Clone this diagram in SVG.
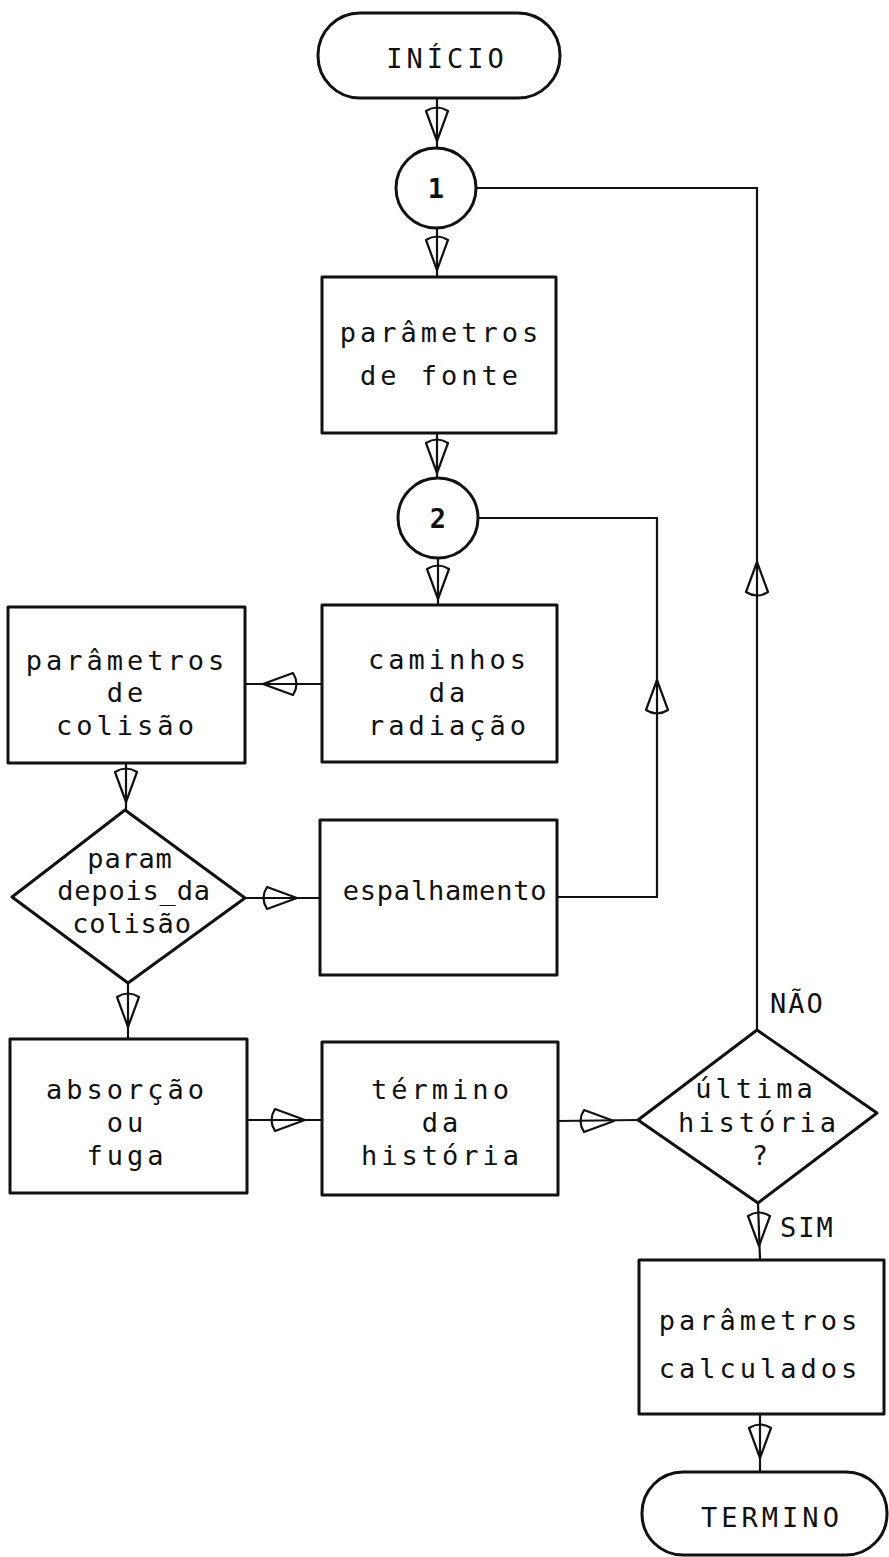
<svg xmlns="http://www.w3.org/2000/svg" xmlns:xlink="http://www.w3.org/1999/xlink" width="889" height="1557" viewBox="0 0 889 1557">
<style>
  .shape { fill: none; stroke: #111; stroke-width: 3; stroke-linejoin: round; }
  .conn { fill: none; stroke: #111; stroke-width: 2.2; }
  .ah { fill: none; stroke: #111; stroke-width: 2.2; stroke-linejoin: round; }
  text { font-family: "DejaVu Sans Mono", "Liberation Mono", monospace; font-size: 27px; fill: #111; }
  .w { letter-spacing: 4px; text-anchor: middle; }
  .n { letter-spacing: 0.8px; text-anchor: middle; }
  .lbl { letter-spacing: 2px; }
  .num { font-size: 27px; text-anchor: middle; font-weight: bold; }
</style>
<defs>
  <path id="ah" class="ah" d="M0,0 L-30,-11 Q-37,0 -30,11 Z"/>
</defs>
<rect width="889" height="1557" fill="#fff"/>

<g id="connectors">
  <line class="conn" x1="437" y1="98" x2="437" y2="148"/>
  <use xlink:href="#ah" transform="translate(437,141) rotate(90)"/>
  <line class="conn" x1="437" y1="228" x2="437" y2="277"/>
  <use xlink:href="#ah" transform="translate(437,270) rotate(90)"/>
  <line class="conn" x1="437" y1="433" x2="437" y2="478"/>
  <use xlink:href="#ah" transform="translate(437,473) rotate(90)"/>
  <line class="conn" x1="438" y1="558" x2="438" y2="605"/>
  <use xlink:href="#ah" transform="translate(438,599) rotate(90)"/>
  <line class="conn" x1="322" y1="684" x2="245" y2="684"/>
  <use xlink:href="#ah" transform="translate(263,684) rotate(180)"/>
  <line class="conn" x1="126" y1="763" x2="126" y2="810"/>
  <use xlink:href="#ah" transform="translate(126,802) rotate(90)"/>
  <line class="conn" x1="245" y1="898" x2="320" y2="898"/>
  <use xlink:href="#ah" transform="translate(297,898)"/>
  <polyline class="conn" points="557,897 657,897 657,518 478,518"/>
  <use xlink:href="#ah" transform="translate(657,680) rotate(-90)"/>
  <line class="conn" x1="128" y1="983" x2="128" y2="1039"/>
  <use xlink:href="#ah" transform="translate(128,1027) rotate(90)"/>
  <line class="conn" x1="247" y1="1120" x2="322" y2="1120"/>
  <use xlink:href="#ah" transform="translate(305,1120)"/>
  <line class="conn" x1="558" y1="1121" x2="638" y2="1120"/>
  <use xlink:href="#ah" transform="translate(614,1121)"/>
  <polyline class="conn" points="757,1030 757,188 476,188"/>
  <use xlink:href="#ah" transform="translate(757,562) rotate(-90)"/>
  <line class="conn" x1="758" y1="1203" x2="760" y2="1260"/>
  <use xlink:href="#ah" transform="translate(759,1246) rotate(90)"/>
  <line class="conn" x1="760" y1="1414" x2="760" y2="1472"/>
  <use xlink:href="#ah" transform="translate(760,1458) rotate(90)"/>
  <text class="lbl" x="770" y="1013">NÃO</text>
  <text class="lbl" x="780" y="1237">SIM</text>
</g>

<g id="inicio">
  <rect class="shape" x="318" y="13" width="242" height="85" rx="42" ry="42"/>
  <text class="w" x="447" y="68">INÍCIO</text>
</g>
<g id="c1">
  <circle class="shape" cx="436" cy="188" r="40"/>
  <text class="num" x="436" y="198">1</text>
</g>
<g id="fonte">
  <rect class="shape" x="322" y="277" width="234" height="156"/>
  <text class="w" x="441" y="342">parâmetros</text>
  <text class="w" x="441" y="385">de fonte</text>
</g>
<g id="c2">
  <circle class="shape" cx="438" cy="518" r="40"/>
  <text class="num" x="438" y="528">2</text>
</g>
<g id="caminhos">
  <rect class="shape" x="322" y="605" width="235" height="157"/>
  <text class="w" x="449" y="669">caminhos</text>
  <text class="w" x="449" y="702">da</text>
  <text class="w" x="449" y="735">radiação</text>
</g>
<g id="colisao">
  <rect class="shape" x="8" y="607" width="237" height="156"/>
  <text class="w" x="127" y="670">parâmetros</text>
  <text class="w" x="127" y="702">de</text>
  <text class="w" x="127" y="735">colisão</text>
</g>
<g id="depois">
  <polygon class="shape" points="125,810 245,898 128,983 12,897"/>
  <text class="n" x="130" y="868">param</text>
  <text class="n" x="134" y="900">depois_da</text>
  <text class="n" x="132" y="933">colisão</text>
</g>
<g id="espalhamento">
  <rect class="shape" x="320" y="820" width="237" height="155"/>
  <text class="n" x="445" y="900">espalhamento</text>
</g>
<g id="absorcao">
  <rect class="shape" x="10" y="1039" width="237" height="154"/>
  <text class="w" x="127" y="1099">absorção</text>
  <text class="w" x="127" y="1132">ou</text>
  <text class="w" x="127" y="1165">fuga</text>
</g>
<g id="termino-historia">
  <rect class="shape" x="322" y="1042" width="236" height="153"/>
  <text class="w" x="442" y="1099">término</text>
  <text class="w" x="442" y="1132">da</text>
  <text class="w" x="442" y="1165">história</text>
</g>
<g id="ultima">
  <polygon class="shape" points="757,1030 877,1113 758,1203 638,1120"/>
  <text class="w" x="756" y="1098">última</text>
  <text class="w" x="759" y="1132">história</text>
  <text class="w" x="762" y="1165">?</text>
</g>
<g id="calculados">
  <rect class="shape" x="639" y="1260" width="245" height="154"/>
  <text class="w" x="760" y="1330">parâmetros</text>
  <text class="w" x="760" y="1378">calculados</text>
</g>
<g id="termino">
  <rect class="shape" x="642" y="1472" width="245" height="83" rx="41" ry="41"/>
  <text class="w" x="772" y="1527">TERMINO</text>
</g>
</svg>
